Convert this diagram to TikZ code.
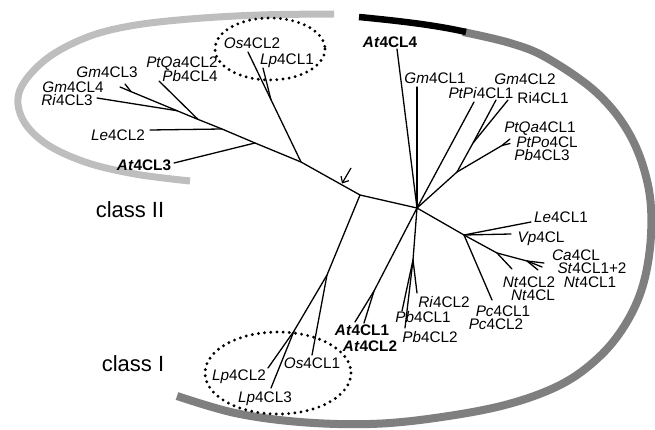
\documentclass[tikz,border=0pt]{standalone}
\usepackage{fontspec}
\setmainfont{Liberation Sans}
\usetikzlibrary{arrows.meta}
\definecolor{lightarc}{HTML}{BEBEBE}
\definecolor{darkarc}{HTML}{7F7F7F}
\newcommand{\lblfont}{\fontsize{15.3}{17}\selectfont}
\newcommand{\bigfont}{\fontsize{22}{24}\selectfont}
\begin{document}
\begin{tikzpicture}[x=1pt,y=-1pt,
  br/.style={line width=1.3pt, line cap=round, line join=round},
  lab/.style={font=\lblfont, inner sep=0pt, anchor=base},
  biglab/.style={font=\bigfont, inner sep=0pt, anchor=base},
  dotell/.style={line width=3.2pt, dash pattern=on 0pt off 6.2pt, line cap=round},
  arclight/.style={line width=7pt, draw=lightarc},
  arcdark/.style={line width=8pt, draw=darkarc},
  arcblack/.style={line width=6.5pt, draw=black}]
\useasboundingbox (0,0) rectangle (655,430);
\fill[white] (0,0) rectangle (655,430);

% ---- class arcs ----
\draw[arclight] plot[smooth, tension=0.6] coordinates {(334,14) (260,15) (190,19) (130,26) (85,38) (45,60) (20,90) (22,118) (45,143) (85,162) (135,174) (190,181)};
\draw[arcdark] plot[smooth, tension=0.6] coordinates {(463,32) (510,43) (547,58) (597,93) (630,135) (648,185) (651,235) (643,285) (625,325) (598,358) (560,385) (505,405) (435,418) (370,424) (300,422) (235,413) (177,396)};
\draw[arcblack] (359,17) .. controls (400,21) and (435,25) .. (466,32);

% ---- dotted ellipses ----
\draw[dotell] (270,49) ellipse [x radius=55, y radius=31];
\draw[dotell] (278,373) ellipse [x radius=73, y radius=41];

% ---- tree coordinates ----
\coordinate (H) at (417,208);
\coordinate (A) at (360,195);
\coordinate (J) at (301,162);
\coordinate (os2e) at (248,52);
\coordinate (L1) at (271,100);
\coordinate (lp1e) at (263,68);
\coordinate (c2a) at (255,143);
\coordinate (at3e) at (174,163);
\coordinate (c2b) at (222,129);
\coordinate (le2e) at (150,130);
\coordinate (c2c) at (198,119.4);
\coordinate (pb4e) at (159,81);
\coordinate (c2d) at (177,110.7);
\coordinate (ri3e) at (97,98);
\coordinate (G) at (131,91.6);
\coordinate (gm4e) at (120,87);
\coordinate (gm3e) at (125,84);
\coordinate (B1) at (327,275);
\coordinate (os1e) at (312,355);
\coordinate (B2) at (294,331);
\coordinate (lp2e) at (268,368);
\coordinate (lp3e) at (271,388);
\coordinate (at4e) at (397,49);
\coordinate (gm1e) at (417,87);
\coordinate (ptpie) at (474,102);
\coordinate (N1) at (457,172);
\coordinate (F1) at (473,143);
\coordinate (gm2e) at (496,100);
\coordinate (ri1e) at (508,100);
\coordinate (F2) at (502,145.5);
\coordinate (ptqa1e) at (510,139);
\coordinate (ptpoe) at (510,143.5);
\coordinate (D) at (464,235);
\coordinate (le1e) at (531,222);
\coordinate (vpe) at (511,234);
\coordinate (pc1e) at (492,300);
\coordinate (N4) at (497,253);
\coordinate (nt2e) at (512,269);
\coordinate (N5) at (527,261);
\coordinate (cae) at (544,263);
\coordinate (ste) at (542,267);
\coordinate (nt1e) at (538,270);
\coordinate (N2) at (374,291);
\coordinate (at1e) at (355,322);
\coordinate (at2e) at (364,323);
\coordinate (N3) at (413,260);
\coordinate (ri2e) at (417,293);
\coordinate (pb1e) at (402,311);
\coordinate (pb2e) at (405,328);
\coordinate (arrS) at (351,168);
\coordinate (arrE) at (342,183.5);

% ---- tree branches ----
\draw[br] (H) -- (A) -- (J) -- (os2e);
\draw[br] (L1) -- (lp1e);
\draw[br] (J) -- (c2a) -- (c2b) -- (c2c) -- (c2d) -- (G) -- (gm4e);
\draw[br] (G) -- (gm3e);
\draw[br] (c2a) -- (at3e);
\draw[br] (c2b) -- (le2e);
\draw[br] (c2c) -- (pb4e);
\draw[br] (c2d) -- (ri3e);
\draw[br] (A) -- (B1) -- (os1e);
\draw[br] (B1) -- (B2) -- (lp2e);
\draw[br] (B2) -- (lp3e);
\draw[br] (H) -- (at4e);
\draw[br] (H) -- (gm1e);
\draw[br] (H) -- (ptpie);
\draw[br] (H) -- (N1) -- (F1) -- (gm2e);
\draw[br] (F1) -- (ri1e);
\draw[br] (N1) -- (F2) -- (ptqa1e);
\draw[br] (F2) -- (ptpoe);
\draw[br] (H) -- (D) -- (le1e);
\draw[br] (D) -- (vpe);
\draw[br] (D) -- (pc1e);
\draw[br] (D) -- (N4) -- (nt2e);
\draw[br] (N4) -- (N5) -- (cae);
\draw[br] (N5) -- (ste);
\draw[br] (N5) -- (nt1e);
\draw[br] (H) -- (N2) -- (at1e);
\draw[br] (N2) -- (at2e);
\draw[br] (H) -- (N3) -- (ri2e);
\draw[br] (N3) -- (pb1e);
\draw[br] (N3) -- (pb2e);
\draw[line width=1.2pt, -{Straight Barb[length=5pt,width=9pt,line width=1.2pt]}] (arrS) -- (arrE);

% ---- labels ----
\node[lab] (os2) at (252,48.5) {\textit{Os}4CL2};
\node[lab] (lp1) at (287,64.5) {\textit{Lp}4CL1};
\node[lab] (ptqa2) at (182,67.5) {\textit{PtQa}4CL2};
\node[lab] (pb4) at (190,81.5) {\textit{Pb}4CL4};
\node[lab] (gm3) at (107,77.5) {\textit{Gm}4CL3};
\node[lab] (gm4) at (73,92.5) {\textit{Gm}4CL4};
\node[lab] (ri3) at (67,105.5) {\textit{Ri}4CL3};
\node[lab] (le2) at (118,140.5) {\textit{Le}4CL2};
\node[lab] (at3) at (144,170.5) {\textbf{\textit{At}4CL3}};
\node[biglab] (cII) at (130,218) {class II};
\node[biglab] (cI) at (133,371) {class I};
\node[lab] (lp2) at (239,380.5) {\textit{Lp}4CL2};
\node[lab] (lp3) at (265,402.5) {\textit{Lp}4CL3};
\node[lab] (os1) at (312,368.5) {\textit{Os}4CL1};
\node[lab] (at1) at (362,335.5) {\textbf{\textit{At}4CL1}};
\node[lab] (at2) at (370,351.5) {\textbf{\textit{At}4CL2}};
\node[lab] (ri2) at (444,307.5) {\textit{Ri}4CL2};
\node[lab] (pb1) at (423,322.5) {\textit{Pb}4CL1};
\node[lab] (pb2) at (430,342.5) {\textit{Pb}4CL2};
\node[lab] (pc1) at (503,316.5) {\textit{Pc}4CL1};
\node[lab] (pc2) at (496,329) {\textit{Pc}4CL2};
\node[lab] (nt2) at (529,287.5) {\textit{Nt}4CL2};
\node[lab] (nt) at (533,300.5) {\textit{Nt}4CL};
\node[lab] (ca) at (576,260.5) {\textit{Ca}4CL};
\node[lab] (st) at (592,273.5) {\textit{St}4CL1+2};
\node[lab] (nt1) at (590,287.5) {\textit{Nt}4CL1};
\node[lab] (le1) at (561,222.5) {\textit{Le}4CL1};
\node[lab] (vp) at (541,242.5) {\textit{Vp}4CL};
\node[lab] (at4) at (390,47.5) {\textbf{\textit{At}4CL4}};
\node[lab] (gm1) at (435,83.5) {\textit{Gm}4CL1};
\node[lab] (gm2) at (525,84.5) {\textit{Gm}4CL2};
\node[lab] (ptpi) at (481,98.5) {\textit{PtPi}4CL1};
\node[lab] (ri1) at (543,103.5) {Ri4CL1};
\node[lab] (ptqa1) at (540,133) {\textit{PtQa}4CL1};
\node[lab] (ptpo) at (547,148) {\textit{PtPo}4CL};
\node[lab] (pb3) at (542,161) {\textit{Pb}4CL3};
\end{tikzpicture}
\end{document}
